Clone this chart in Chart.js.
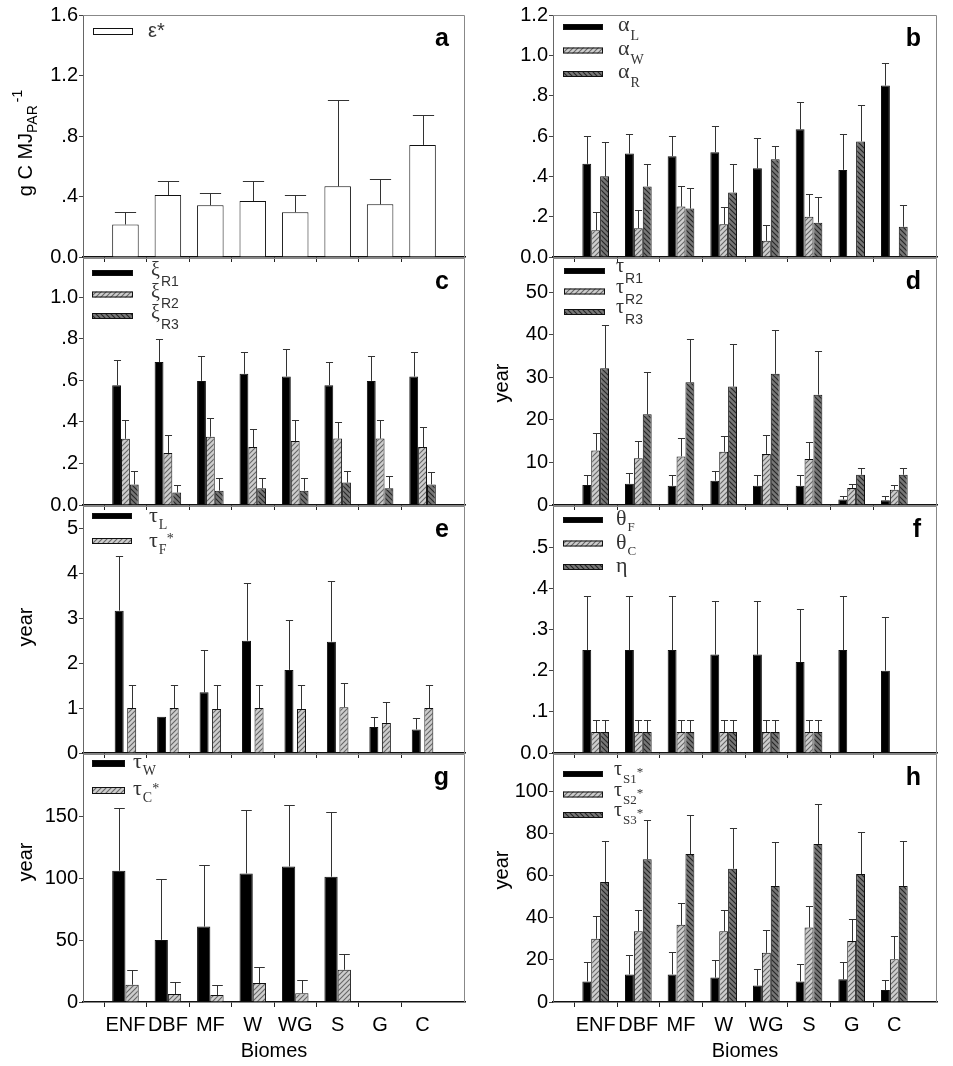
<!DOCTYPE html>
<html>
<head>
<meta charset="utf-8">
<script src="https://cdn.jsdelivr.net/npm/chart.js@4.4.1/dist/chart.umd.min.js"></script>
<style>
  html, body { margin: 0; padding: 0; background: #fff; }
  #wrap { position: relative; width: 953px; height: 1066px; overflow: hidden; }
  canvas { position: absolute; }
</style>
</head>
<body>
<div id="wrap"></div>
<script>
const biomes = ['ENF', 'DBF', 'MF', 'W', 'WG', 'S', 'G', 'C'];

// a: light use efficiency
const epsilon   = [0.215, 0.41, 0.342, 0.37, 0.296, 0.467, 0.348, 0.741];
const epsilonUp = [0.296, 0.50, 0.423, 0.50, 0.41, 1.035, 0.513, 0.94];

// b: allocation
const alphaL   = [0.462, 0.513, 0.50, 0.52, 0.44, 0.633, 0.432, 0.85];
const alphaLUp = [0.60, 0.61, 0.60, 0.648, 0.59, 0.77, 0.61, 0.963];
const alphaW   = [0.133, 0.143, 0.25, 0.163, 0.08, 0.20, null, null];
const alphaWUp = [0.222, 0.232, 0.35, 0.25, 0.16, 0.31, null, null];
const alphaR   = [0.40, 0.35, 0.24, 0.32, 0.485, 0.17, 0.573, 0.15];
const alphaRUp = [0.572, 0.46, 0.34, 0.46, 0.552, 0.30, 0.753, 0.26];

// c: root fractions
const xiR1   = [0.577, 0.689, 0.598, 0.632, 0.619, 0.577, 0.598, 0.619];
const xiR1Up = [0.697, 0.80, 0.719, 0.737, 0.75, 0.689, 0.719, 0.738];
const xiR2   = [0.319, 0.25, 0.329, 0.279, 0.308, 0.32, 0.32, 0.279];
const xiR2Up = [0.408, 0.337, 0.42, 0.368, 0.408, 0.40, 0.408, 0.378];
const xiR3   = [0.099, 0.06, 0.069, 0.081, 0.069, 0.108, 0.081, 0.099];
const xiR3Up = [0.166, 0.097, 0.13, 0.13, 0.13, 0.166, 0.139, 0.158];

// d: root residence times
const tauR1   = [4.7, 5.0, 4.5, 5.7, 4.5, 4.5, 1.3, 1.1];
const tauR1Up = [7.1, 7.4, 7.1, 8.1, 7.1, 7.1, 2.2, 2.0];
const tauR2   = [12.8, 11.0, 11.4, 12.5, 12.0, 10.8, 4.0, 3.6];
const tauR2Up = [16.9, 15.0, 15.7, 16.2, 16.4, 14.9, 4.9, 4.7];
const tauR3   = [32.1, 21.3, 28.8, 27.8, 30.8, 25.9, 7.1, 7.1];
const tauR3Up = [42.3, 31.2, 38.9, 37.8, 41.0, 36.1, 8.7, 8.7];

// e: leaf and fine litter
const tauL   = [3.17, 0.806, 1.35, 2.50, 1.85, 2.48, 0.58, 0.525];
const tauLUp = [4.39, null, 2.30, 3.79, 2.96, 3.82, 0.81, 0.77];
const tauF   = [1.0, 1.0, 0.98, 1.0, 0.98, 1.02, 0.67, 1.0];
const tauFUp = [1.51, 1.51, 1.51, 1.51, 1.51, 1.55, 1.13, 1.51];

// f: partitioning coefficients
const thetaF   = [0.25, 0.25, 0.25, 0.239, 0.239, 0.221, 0.25, 0.20];
const thetaFUp = [0.381, 0.381, 0.381, 0.37, 0.37, 0.35, 0.381, 0.33];
const thetaC   = [0.051, 0.051, 0.051, 0.051, 0.051, 0.051, null, null];
const thetaCUp = [0.079, 0.079, 0.079, 0.079, 0.079, 0.079, null, null];
const eta      = [0.051, 0.051, 0.051, 0.051, 0.051, 0.051, null, null];
const etaUp    = [0.079, 0.079, 0.079, 0.079, 0.079, 0.079, null, null];

// g: wood and coarse litter
const tauW   = [105.8, 50.1, 60.8, 103.7, 109.3, 101, null, null];
const tauWUp = [156.4, 98.8, 110.1, 154.8, 159.1, 153.2, null, null];
const tauC   = [13.9, 6.4, 5.6, 15.3, 7.0, 26.0, null, null];
const tauCUp = [25.7, 16.1, 13.9, 27.9, 17.4, 39.1, null, null];

// h: soil pools
const tauS1   = [9.8, 13.1, 13.1, 11.6, 7.8, 9.8, 10.8, 5.7];
const tauS1Up = [18.8, 22.6, 23.9, 20.1, 15.5, 18.0, 18.8, 10.3];
const tauS2   = [30.1, 33.7, 36.7, 33.7, 23.4, 35.4, 29.0, 20.4];
const tauS2Up = [41.1, 44.0, 47.3, 44.0, 34.3, 45.7, 39.4, 31.3];
const tauS3   = [57.1, 67.9, 70.4, 63.4, 55.2, 75.2, 60.9, 55.2];
const tauS3Up = [76.6, 86.7, 88.8, 82.8, 76.1, 94.3, 80.7, 76.6];

// y tick labels
const ticksA = [0, 0.4, 0.8, 1.2, 1.6];
const ticksB = [0, 0.2, 0.4, 0.6, 0.8, 1.0, 1.2];
const ticksC = [0, 0.2, 0.4, 0.6, 0.8, 1.0];
const ticksD = [0, 10, 20, 30, 40, 50];
const ticksE = [0, 1, 2, 3, 4, 5];
const ticksF = [0, 0.1, 0.2, 0.3, 0.4, 0.5];
const ticksG = [0, 50, 100, 150];
const ticksH = [0, 20, 40, 60, 80, 100];

// legend labels: [symbol, subscript, superscript]
const legendA = [['ε*', '', '']];
const legendB = [['α', 'L', ''], ['α', 'W', ''], ['α', 'R', '']];
const legendC = [['ξ', 'R1', ''], ['ξ', 'R2', ''], ['ξ', 'R3', '']];
const legendD = [['τ', 'R1', ''], ['τ', 'R2', ''], ['τ', 'R3', '']];
const legendE = [['τ', 'L', ''], ['τ', 'F', '*']];
const legendF = [['θ', 'F', ''], ['θ', 'C', ''], ['η', '', '']];
const legendG = [['τ', 'W', ''], ['τ', 'C', '*']];
const legendH = [['τ', 'S1', '*'], ['τ', 'S2', '*'], ['τ', 'S3', '*']];

const SANS = '"Liberation Sans", Arial, sans-serif';
const SERIF = '"Liberation Serif", "Times New Roman", serif';
Chart.defaults.font.family = SANS;
Chart.defaults.font.size = 20;
Chart.defaults.color = '#000';

function hatch(bg, fg, up) {
  const c = document.createElement('canvas');
  c.width = c.height = 5;
  const g = c.getContext('2d');
  g.fillStyle = bg;
  g.fillRect(0, 0, 5, 5);
  g.strokeStyle = fg;
  g.lineWidth = 1.1;
  g.beginPath();
  if (up) {
    g.moveTo(0, 5); g.lineTo(5, 0);
    g.moveTo(-1, 1); g.lineTo(1, -1);
    g.moveTo(4, 6); g.lineTo(6, 4);
  } else {
    g.moveTo(0, 0); g.lineTo(5, 5);
    g.moveTo(4, -1); g.lineTo(6, 1);
    g.moveTo(-1, 4); g.lineTo(1, 6);
  }
  g.stroke();
  return g.createPattern(c, 'repeat');
}
const LIGHT = hatch('#cdcdcd', '#666', true);
const DARK = hatch('#767676', '#262626', false);
const fills = { black: '#000', white: '#fff', light: LIGHT, dark: DARK };

const COLS = [
  { left: 0, width: 476, plotL: 83, plotR: 465 },
  { left: 476, width: 477, plotL: 77, plotR: 461 }
];
const ROWS = [[15, 258], [258, 506], [506, 754], [754, 1002]];

function drawParts(ctx, parts, x, y) {
  parts.forEach(p => {
    if (!p.t) return;
    ctx.font = p.f;
    ctx.fillText(p.t, x, y + (p.dy || 0));
    x += ctx.measureText(p.t).width + (p.gap || 0);
  });
}
function partsWidth(ctx, parts) {
  let w = 0;
  parts.forEach(p => { if (!p.t) return; ctx.font = p.f; w += ctx.measureText(p.t).width + (p.gap || 0); });
  return w;
}

const panels = [
  { id: 'a', col: 0, row: 0, max: 1.6, ticks: ticksA, dec: true,
    series: [[epsilon, epsilonUp, 'white']],
    legend: { items: legendA, x: 10, y: 13, w: 40, h: 7, dy: 23, tx: 65, ty: 9, main: '20px ' + SANS, sub: '13px ' + SERIF, subDy: 7 },
    ytitle: { cy: 143, parts: [
      { t: 'g C MJ', f: '20px ' + SANS },
      { t: 'PAR', f: '14px ' + SANS, dy: 5, gap: 3 },
      { t: '-1', f: '14px ' + SANS, dy: -10 }] } },
  { id: 'b', col: 1, row: 0, max: 1.2, ticks: ticksB, dec: true,
    series: [[alphaL, alphaLUp, 'black'], [alphaW, alphaWUp, 'light'], [alphaR, alphaRUp, 'dark']],
    legend: { items: legendB, x: 10, y: 9, w: 40, h: 6, dy: 23.5, tx: 65, ty: 7, main: '22px ' + SERIF, sub: '14px ' + SERIF, subDy: 9 } },
  { id: 'c', col: 0, row: 1, max: 1.19, ticks: ticksC, dec: true,
    series: [[xiR1, xiR1Up, 'black'], [xiR2, xiR2Up, 'light'], [xiR3, xiR3Up, 'dark']],
    legend: { items: legendC, x: 9, y: 12, w: 41, h: 6, dy: 21.5, tx: 68, ty: 6, main: '20px ' + SERIF, sub: '14px ' + SANS, subDy: 10 } },
  { id: 'd', col: 1, row: 1, max: 58, ticks: ticksD, dec: false,
    series: [[tauR1, tauR1Up, 'black'], [tauR2, tauR2Up, 'light'], [tauR3, tauR3Up, 'dark']],
    legend: { items: legendD, x: 11, y: 10, w: 41, h: 6, dy: 20.5, tx: 63, ty: 4, main: '20px ' + SERIF, sub: '14px ' + SANS, subDy: 11 },
    ytitle: { cy: 383, parts: [{ t: 'year', f: '20px ' + SANS }] } },
  { id: 'e', col: 0, row: 2, max: 5.5, ticks: ticksE, dec: false, cat: 0.59, bar: 0.72,
    series: [[tauL, tauLUp, 'black'], [tauF, tauFUp, 'light']],
    legend: { items: legendE, x: 9, y: 7, w: 40, h: 6, dy: 25, tx: 66, ty: 9, main: '22px ' + SERIF, sub: '14px ' + SERIF, subDy: 7, supDy: -4 },
    ytitle: { cy: 627, parts: [{ t: 'year', f: '20px ' + SANS }] } },
  { id: 'f', col: 1, row: 2, max: 0.6, ticks: ticksF, dec: true,
    series: [[thetaF, thetaFUp, 'black'], [thetaC, thetaCUp, 'light'], [eta, etaUp, 'dark']],
    legend: { items: legendF, x: 10, y: 11, w: 40, h: 6, dy: 23.5, tx: 63, ty: 8, main: '22px ' + SERIF, sub: '13px ' + SERIF, subDy: 6 } },
  { id: 'g', col: 0, row: 3, max: 200, ticks: ticksG, dec: false,
    series: [[tauW, tauWUp, 'black'], [tauC, tauCUp, 'light']],
    legend: { items: legendG, x: 9, y: 6, w: 33, h: 7, dy: 27, tx: 50, ty: 8, main: '22px ' + SERIF, sub: '14px ' + SERIF, subDy: 7, supDy: -2 },
    ytitle: { cy: 862, parts: [{ t: 'year', f: '20px ' + SANS }] } },
  { id: 'h', col: 1, row: 3, max: 118, ticks: ticksH, dec: false,
    series: [[tauS1, tauS1Up, 'black'], [tauS2, tauS2Up, 'light'], [tauS3, tauS3Up, 'dark']],
    legend: { items: legendH, x: 10, y: 17, w: 40, h: 6, dy: 20.5, tx: 61, ty: 4, main: '20px ' + SERIF, sub: '13px ' + SERIF, subDy: 8, supDy: 1 },
    ytitle: { cy: 870, parts: [{ t: 'year', f: '20px ' + SANS }] } }
];

const wrap = document.getElementById('wrap');
const labels = ['', ...biomes, ''];

function fmt(dec) {
  return v => {
    if (!dec) return String(v);
    if (v === 0) return '0.0';
    const s = v.toFixed(1);
    return v < 1 ? s.slice(1) : s;
  };
}

panels.forEach(p => {
  const col = COLS[p.col];
  const [rowTop, rowBot] = ROWS[p.row];
  const last = p.row === 3;
  const xH = last ? 1066 - rowBot : 12;
  const top = rowTop - 15;
  const h = 15 + (rowBot - rowTop) + xH;

  const cv = document.createElement('canvas');
  cv.width = col.width;
  cv.height = h;
  cv.style.left = col.left + 'px';
  cv.style.top = top + 'px';
  cv.style.width = col.width + 'px';
  cv.style.height = h + 'px';
  wrap.appendChild(cv);

  const datasets = p.series.map(([v, up, fill]) => ({
    data: [null, ...v, null],
    up: [null, ...up, null],
    backgroundColor: fills[fill],
    borderColor: '#111',
    borderWidth: 1,
    categoryPercentage: p.cat || 0.625,
    barPercentage: p.bar || 1
  }));

  const deco = {
    id: 'deco' + p.id,
    afterDatasetsDraw(chart) {
      const ctx = chart.ctx;
      const ys = chart.scales.y;
      ctx.save();
      ctx.strokeStyle = '#333';
      ctx.lineWidth = 1;
      ctx.beginPath();
      chart.data.datasets.forEach((ds, di) => {
        chart.getDatasetMeta(di).data.forEach((el, i) => {
          const u = ds.up[i];
          if (u == null || ds.data[i] == null) return;
          const yt = Math.round(ys.getPixelForValue(u)) + 0.5;
          const x = Math.round(el.x) + 0.5;
          const half = el.width * 0.4;
          ctx.moveTo(x, el.y);
          ctx.lineTo(x, yt);
          ctx.moveTo(x - half, yt);
          ctx.lineTo(x + half, yt);
        });
      });
      ctx.stroke();
      ctx.restore();
    },
    afterDraw(chart) {
      const ctx = chart.ctx;
      const a = chart.chartArea;
      ctx.save();
      // frame
      ctx.strokeStyle = '#888';
      ctx.lineWidth = 1;
      ctx.beginPath();
      ctx.moveTo(a.left, a.top + 0.5);
      ctx.lineTo(a.right - 0.5, a.top + 0.5);
      ctx.lineTo(a.right - 0.5, a.bottom);
      ctx.stroke();

      // panel letter
      ctx.fillStyle = '#000';
      ctx.font = 'bold 25px ' + SANS;
      ctx.textAlign = 'right';
      ctx.textBaseline = 'alphabetic';
      ctx.fillText(p.id, a.right - 16, a.top + 31);
      ctx.textAlign = 'left';

      // legend
      const L = p.legend;
      L.items.forEach(([m, s, sup], i) => {
        const ry = a.top + L.y + i * L.dy;
        const rx = a.left + L.x;
        ctx.fillStyle = fills[p.series[i][2]];
        ctx.fillRect(rx, ry, L.w, L.h);
        ctx.strokeStyle = '#111';
        ctx.strokeRect(rx + 0.5, ry + 0.5, L.w - 1, L.h - 1);
        ctx.fillStyle = '#333';
        drawParts(ctx, [
          { t: m, f: L.main, gap: 1 },
          { t: s, f: L.sub, dy: L.subDy },
          { t: sup, f: L.sub, dy: L.supDy || 0 }
        ], a.left + L.tx, ry + L.ty);
      });

      // y title
      if (p.ytitle) {
        ctx.fillStyle = '#000';
        const cx = 25;
        const cy = p.ytitle.cy - top;
        ctx.translate(cx, cy);
        ctx.rotate(-Math.PI / 2);
        const w = partsWidth(ctx, p.ytitle.parts);
        drawParts(ctx, p.ytitle.parts, -w / 2, 7);
      }
      ctx.restore();
    }
  };

  new Chart(cv, {
    type: 'bar',
    data: { labels, datasets },
    options: {
      responsive: false,
      animation: false,
      layout: { padding: { left: 0, top: 15, right: col.width - col.plotR, bottom: 0 } },
      plugins: { legend: { display: false }, tooltip: { enabled: false } },
      scales: {
        x: {
          type: 'category',
          offset: false,
          grid: {
            drawOnChartArea: false,
            drawTicks: true,
            tickLength: 5,
            color: c => (c.index === 0 || c.index === labels.length - 1) ? 'rgba(0,0,0,0)' : '#222'
          },
          border: { display: true, color: '#111', width: 1.5 },
          ticks: { display: last, autoSkip: false, maxRotation: 0, padding: 6, color: '#000' },
          title: { display: last, text: 'Biomes', color: '#000', padding: { top: 0, bottom: 3 } },
          afterFit: s => { s.height = xH; }
        },
        y: {
          type: 'linear',
          min: 0,
          max: p.max,
          afterBuildTicks: s => { s.ticks = p.ticks.map(v => ({ value: v })); },
          ticks: { callback: fmt(p.dec), padding: 1, color: '#000' },
          grid: { drawOnChartArea: false, drawTicks: true, tickLength: 4, color: '#444' },
          border: { display: true, color: '#666', width: 1 },
          afterFit: s => { s.width = col.plotL; }
        }
      }
    },
    plugins: [deco]
  });
});
</script>
</body>
</html>
